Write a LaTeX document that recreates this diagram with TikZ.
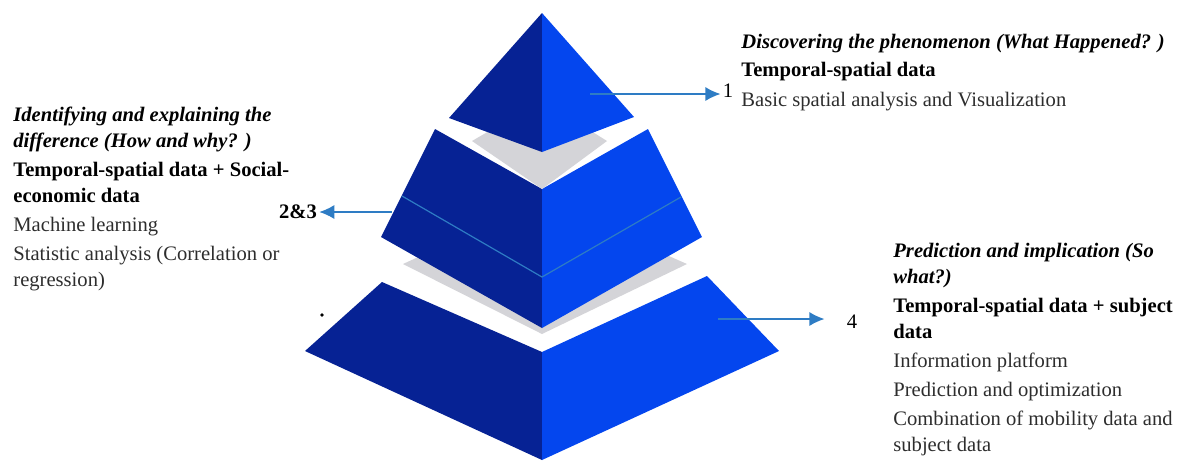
\documentclass[tikz,border=0pt]{standalone}
\usepackage{fontspec}
\setmainfont{Liberation Serif}
\usepackage{tikz}
\usetikzlibrary{positioning,arrows.meta}
\definecolor{pyrdark}{RGB}{6,34,148}
\definecolor{pyrlight}{RGB}{4,70,238}
\definecolor{pyrgray}{RGB}{212,212,216}
\definecolor{arrblue}{RGB}{46,124,196}
\definecolor{txtgray}{RGB}{45,45,45}

\begin{document}
\begin{tikzpicture}[
		x=0.5pt,y=-0.5pt,
		dark/.style={
			fill=pyrdark
		},
		light/.style={
			fill=pyrlight
		},
		topface/.style={
			fill=pyrgray
		},
		arr/.style={
			draw=arrblue,
			line width=0.7pt,
			-{Latex[length=7.5pt,width=7pt]}
		},
		txt/.style={
			align=left,
			anchor=north west,
			inner sep=0pt,
			font=\fontsize{10.3}{13}\selectfont
		},
		num/.style={
			inner sep=1pt,
			font=\fontsize{10.3}{13}\selectfont
		}
		]
		\useasboundingbox (0,0) rectangle (1180,463);
		
		% top faces (gray) and tiers
		\fill[topface] (403,264) -- (542,200) -- (687,264) -- (542,334) -- cycle;
		
		\fill[dark] (382,282) -- (542,352) -- (542,460) -- (305,351) -- cycle;
		\fill[light] (542,352) -- (707,276) -- (779,351) -- (542,460) -- cycle;
		
		\fill[dark] (435,129) -- (542,189) -- (542,328) -- (381,237) -- cycle;
		\fill[light] (542,189) -- (648,129) -- (702,237) -- (542,328) -- cycle;
		\draw[arrblue, line width=0.6pt] (402,196) -- (542,277) -- (681,197);
		
		\fill[topface] (472,141) -- (542,100) -- (607,141) -- (542,189) -- cycle;
		
		\fill[dark] (542,13) -- (449,118) -- (542,152) -- cycle;
		\fill[light] (542,13) -- (634,117) -- (542,152) -- cycle;
		
		\fill (322,315) circle (0.9pt);
		
		% labels
		\node[num] (n1) at (728,91) {1};
		\node[num] (n23) at (298,212) {\textbf{2\&3}};
		\node[num] (n4) at (852,322) {4};
		
		\coordinate (a1) at (590,94);
		\coordinate (a23) at (392,212);
		\coordinate (a4) at (718,319);
		
		\draw[arr] (a1) -- (a1 -| n1.west);
		\draw[arr] (a23) -- (a23 -| n23.east);
		\draw[arr, shorten >=10pt] (a4) -- (a4 -| n4.west);
		
		% text blocks
		\node[txt] (b1) at (741,34) {\textbf{\textit{Discovering the phenomenon (What Happened? )}}\\[1pt]
			\textbf{Temporal-spatial data}\\[2pt]
			{\color{txtgray}Basic spatial analysis and Visualization}};
		
		\node[txt] (b23) at (13,107) {\textbf{\textit{Identifying and explaining the}}\\
			\textbf{\textit{difference (How and why? )}}\\[1.5pt]
			\textbf{Temporal-spatial data + Social-}\\
			\textbf{economic data}\\[1.5pt]
			{\color{txtgray}Machine learning}\\[1.5pt]
			{\color{txtgray}Statistic analysis (Correlation or}\\
			{\color{txtgray}regression)}};
		
		\node[txt] (b4) at (893,243) {\textbf{\textit{Prediction and implication (So}}\\
			\textbf{\textit{what?)}}\\[1.5pt]
			\textbf{Temporal-spatial data + subject}\\
			\textbf{data}\\[1.5pt]
			{\color{txtgray}Information platform}\\[1.5pt]
			{\color{txtgray}Prediction and optimization}\\[1.5pt]
			{\color{txtgray}Combination of mobility data and}\\
			{\color{txtgray}subject data}};
		
		\end{tikzpicture}
\end{document}
